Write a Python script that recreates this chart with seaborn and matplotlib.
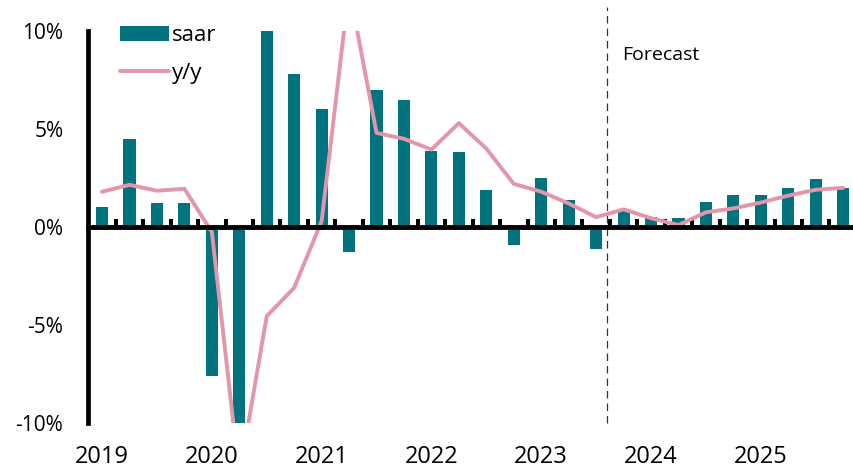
import matplotlib
matplotlib.use("Agg")
import matplotlib.pyplot as plt
import seaborn as sns
import pandas as pd
import numpy as np

# quarterly data, 2019Q1 - 2025Q4
years = [2019, 2020, 2021, 2022, 2023, 2024, 2025]
quarters = [f"{y}Q{q}" for y in years for q in range(1, 5)]
saar = [1.0, 4.5, 1.2, 1.2, -7.6, -38.0, 40.0, 7.8,
        6.0, -1.3, 7.0, 6.5, 3.9, 3.85, 1.9, -0.9,
        2.5, 1.4, -1.1, 0.8, 0.5, 0.45, 1.25, 1.65,
        1.65, 2.0, 2.45, 2.0]
yoy = [1.8, 2.15, 1.85, 1.95, -0.25, -12.7, -4.55, -3.1,
       0.3, 12.2, 4.8, 4.5, 3.95, 5.3, 4.0, 2.2,
       1.8, 1.2, 0.5, 0.9, 0.45, 0.1, 0.75, 0.95,
       1.25, 1.6, 1.9, 2.0]
year_labels = [str(y) for y in years]
forecast_start = 18.4
forecast_label = "Forecast"

bar_color = "#00737F"
line_color = "#E396AA"

sns.set_style("white")
plt.rcParams["font.family"] = ["Open Sans", "DejaVu Sans"]
plt.rcParams["text.color"] = "black"
plt.rcParams["xtick.color"] = "black"
plt.rcParams["ytick.color"] = "black"

df = pd.DataFrame({"quarter": quarters, "saar": saar, "yoy": yoy,
                   "pos": np.arange(len(quarters))})

fig = plt.figure(figsize=(8.54, 4.69), dpi=100)
ax = fig.add_axes([0.1034, 0.0981, 0.9, 0.8358])

sns.barplot(data=df, x="quarter", y="saar", color=bar_color, width=0.44,
            saturation=1, linewidth=0, label="saar", ax=ax)
sns.lineplot(data=df, x="pos", y="yoy", color=line_color, linewidth=2.8,
             label="y/y", ax=ax)

ax.set_xlim(-0.5, len(quarters) - 0.5)
ax.set_ylim(-10, 10)
ax.set_xlabel("")
ax.set_ylabel("")

# y axis
ax.set_yticks([-10, -5, 0, 5, 10])
ax.set_yticklabels([f"{v}%" for v in [-10, -5, 0, 5, 10]], fontsize=15)
ax.tick_params(axis="y", length=0, pad=18)
ax.spines["left"].set_linewidth(3.4)
ax.spines["left"].set_color("black")

# x axis sits on zero with small upward ticks between quarters
ax.spines["bottom"].set_position(("data", 0))
ax.spines["bottom"].set_linewidth(3.5)
ax.spines["bottom"].set_color("black")
ax.spines["top"].set_visible(False)
ax.spines["right"].set_visible(False)
ax.set_xticks(np.arange(len(quarters) - 1) + 0.5)
ax.set_xticklabels([])
ax.tick_params(axis="x", bottom=True, direction="in", length=5.8, width=2.9,
               color="black")

# year labels at the bottom
sec = ax.secondary_xaxis("bottom")
sec.set_xticks(np.arange(0, len(quarters), 4))
sec.set_xticklabels(year_labels, fontsize=17)
sec.tick_params(length=0, pad=16)
sec.spines["bottom"].set_visible(False)

# forecast marker
ax.axvline(forecast_start, ymin=0.0, ymax=1.06, color="#333333", linewidth=0.9,
           linestyle=(0, (6, 4)), clip_on=False, zorder=1)
ax.text(forecast_start + 0.55, 8.8, forecast_label, fontsize=14, va="center",
        ha="left")

handles, labels = ax.get_legend_handles_labels()
order = [labels.index("saar"), labels.index("y/y")]
ax.legend([handles[i] for i in order], [labels[i] for i in order],
          loc="upper left", frameon=False, fontsize=16,
          bbox_to_anchor=(120 / 854, 1 - 25 / 469), bbox_transform=fig.transFigure,
          borderaxespad=0, borderpad=0, handlelength=2.2, handleheight=0.65,
          handletextpad=0.15, labelspacing=0.75)

fig.savefig("out.png", dpi=100)
